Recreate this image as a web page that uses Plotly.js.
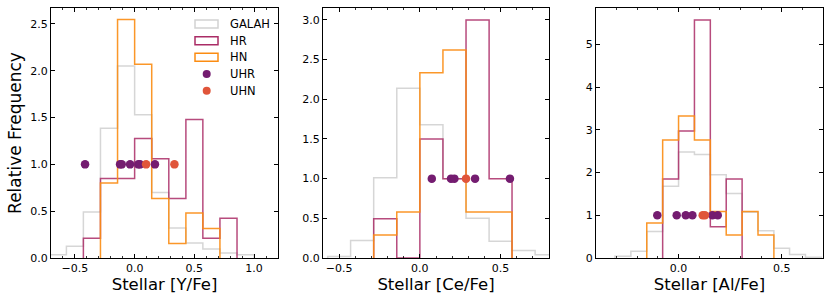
<!DOCTYPE html>
<html>
<head>
<meta charset="utf-8">
<script src="https://cdn.plot.ly/plotly-3.0.1.min.js"></script>
<style>html,body{margin:0;padding:0;background:#fff;}#chart{width:831px;height:303px;}</style>
</head>
<body>
<div id="chart"></div>
<script>
// ---------- data ----------
// [Y/Fe] panel
const yEdges  = [-0.714, -0.571, -0.429, -0.286, -0.143, 0, 0.143, 0.286, 0.429, 0.571, 0.714, 0.857, 1.0];
const galahY  = [0.036, 0.125, 0.49, 1.386, 2.05, 1.53, 0.70, 0.32, 0.16, 0.096, 0.054, 0.036];
const hrY     = [0, 0, 0.21, 0.85, 0.85, 1.275, 1.06, 0.636, 1.48, 0.21, 0.425, 0];
const hnY     = [0, 0, 0, 0.80, 2.546, 2.07, 0.636, 0.154, 0.48, 0.314, 0, 0];
const uhrY    = [-0.415, -0.122, -0.108, -0.038, 0.031, 0.045, 0.17];
const uhnY    = [0.096, 0.333];

// [Ce/Fe] panel
const ceEdges = [-0.571, -0.429, -0.286, -0.143, 0, 0.143, 0.286, 0.429, 0.571, 0.714, 0.857];
const galahCe = [0.02, 0.22, 1.01, 2.14, 1.68, 1.0, 0.50, 0.21, 0.096, 0.04];
const hrCe    = [0, 0, 0.495, 0, 1.5, 1.0, 3.0, 1.0, 0, 0];
const hnCe    = [0, 0, 0.29, 0.58, 2.335, 2.62, 0.58, 0.58, 0, 0];
const uhrCe   = [0.074, 0.193, 0.214, 0.342, 0.558];
const uhnCe   = [0.286];

// [Al/Fe] panel
const alEdges = [-0.308, -0.231, -0.154, -0.077, 0, 0.077, 0.154, 0.231, 0.308, 0.385, 0.462, 0.538, 0.615, 0.692];
const galahAl = [0.04, 0.16, 0.62, 1.68, 2.48, 2.42, 1.95, 1.51, 1.07, 0.64, 0.23, 0.08, 0.02];
const hrAl    = [0, 0, 0, 1.85, 2.97, 5.57, 0.73, 1.85, 0, 0, 0, 0, 0];
const hnAl    = [0, 0, 0.82, 2.76, 3.32, 2.76, 1.09, 0.54, 1.09, 0.54, 0, 0, 0];
const uhrAl   = [-0.103, -0.009, 0.035, 0.067, 0.164, 0.19];
const uhnAl   = [0.117, 0.128];

const uLevel = 1; // single-star markers sit at relative frequency 1

const seriesNames = ['GALAH', 'HR', 'HN', 'UHR', 'UHN'];
const xTitles = ['Stellar [Y/Fe]', 'Stellar [Ce/Fe]', 'Stellar [Al/Fe]'];
const yTitle = 'Relative Frequency';

// ---------- styling ----------
const C = {GALAH:'#d2d2d2', HR:'#aa2c66', HN:'#fb8c12', UHR:'#741c70', UHN:'#e0553a'};
const FONT = 'DejaVu Sans, Verdana, sans-serif';

function step(edges, vals) {
  let i0 = vals.findIndex(v => v > 0);
  let i1 = vals.length - 1; while (i1 > 0 && vals[i1] === 0) i1--;
  const xs = [edges[i0]], ys = [0];
  for (let i = i0; i <= i1; i++) { xs.push(edges[i], edges[i+1]); ys.push(vals[i], vals[i]); }
  xs.push(edges[i1+1]); ys.push(0);
  return {xs, ys};
}

const panels = [
  {edges:yEdges,  g:galahY,  hr:hrY,  hn:hnY,  uhr:uhrY,  uhn:uhnY,  ax:''},
  {edges:ceEdges, g:galahCe, hr:hrCe, hn:hnCe, uhr:uhrCe, uhn:uhnCe, ax:'2'},
  {edges:alEdges, g:galahAl, hr:hrAl, hn:hnAl, uhr:uhrAl, uhn:uhnAl, ax:'3'}
];

const traces = [];
panels.forEach(p => {
  const xa = 'x' + p.ax, ya = 'y' + p.ax;
  [['GALAH', p.g], ['HR', p.hr], ['HN', p.hn]].forEach(([nm, v]) => {
    const s = step(p.edges, v);
    traces.push({type:'scatter', mode:'lines', x:s.xs, y:s.ys, xaxis:xa, yaxis:ya, name:nm,
      line:{color:C[nm], width:1.5}, opacity: nm === 'HR' ? 0.85 : 0.9, showlegend:false, hoverinfo:'skip'});
  });
  traces.push({type:'scatter', mode:'markers', x:p.uhr, y:p.uhr.map(() => uLevel), xaxis:xa, yaxis:ya, name:'UHR',
    marker:{color:C.UHR, size:8.5}, showlegend:false});
  traces.push({type:'scatter', mode:'markers', x:p.uhn, y:p.uhn.map(() => uLevel), xaxis:xa, yaxis:ya, name:'UHN',
    marker:{color:C.UHN, size:8.5}, showlegend:false});
});

const W = 831, H = 303;
const plotTop = 8, plotBottom = 258;
const yDom = [1 - plotBottom / H, 1 - plotTop / H];
const xDoms = [[51 / W, 278 / W], [323 / W, 549 / W], [596 / W, 823 / W]];
const xRanges = [[-0.7, 1.2], [-0.6, 0.8], [-0.4, 0.7]];
const yRanges = [[0, 2.67], [0, 3.15], [0, 5.85]];

function xAxis(i) {
  return {domain:xDoms[i], range:xRanges[i], anchor:'y' + (i ? i + 1 : ''),
    showline:true, linecolor:'#000', linewidth:1, mirror:'allticks',
    ticks:'inside', ticklen:4, tickwidth:1, tickcolor:'#000',
    dtick:0.5, tick0:0, tickformat:'.1f',
    minor:{ticks:'inside', ticklen:2, dtick:0.1, tick0:0, tickcolor:'#000', tickwidth:0.8, showgrid:false},
    showgrid:false, zeroline:false,
    tickfont:{family:FONT, size:11, color:'#000'},
    title:{text:xTitles[i], font:{family:FONT, size:16.5, color:'#000'}, standoff:4}};
}
function yAxis(i) {
  const a = {domain:yDom, range:yRanges[i], anchor:'x' + (i ? i + 1 : ''),
    showline:true, linecolor:'#000', linewidth:1, mirror:'allticks',
    ticks:'inside', ticklen:4, tickwidth:1, tickcolor:'#000',
    dtick: i === 2 ? 1 : 0.5, tick0:0, tickformat: i === 2 ? 'd' : '.1f',
    showgrid:false, zeroline:false,
    tickfont:{family:FONT, size:11, color:'#000'}};
  if (i === 0) a.title = {text:yTitle, font:{family:FONT, size:17, color:'#000'}, standoff:4};
  return a;
}

// manual legend inside first panel (boxes for histograms, dots for singles)
const shapes = [], annotations = [];
const legRows = [24, 40.7, 57.3, 74, 90.7];
seriesNames.forEach((nm, k) => {
  const cy = legRows[k];
  if (k < 3) {
    shapes.push({type:'rect', xref:'paper', yref:'paper',
      x0:195 / W, x1:218 / W, y0:1 - (cy + 4) / H, y1:1 - (cy - 4) / H,
      line:{color:C[nm], width:1.5}, fillcolor:'rgba(0,0,0,0)'});
  } else {
    shapes.push({type:'circle', xref:'paper', yref:'paper',
      x0:(206.7 - 4) / W, x1:(206.7 + 4) / W, y0:1 - (cy + 4) / H, y1:1 - (cy - 4) / H,
      line:{color:C[nm], width:0}, fillcolor:C[nm]});
  }
  annotations.push({xref:'paper', yref:'paper', x:228 / W, y:1 - cy / H, xanchor:'left', yanchor:'middle',
    text:nm, showarrow:false, font:{family:FONT, size:11.5, color:'#000'}});
});

const layout = {
  width:W, height:H, margin:{l:0, r:0, t:0, b:0}, paper_bgcolor:'#fff', plot_bgcolor:'#fff',
  showlegend:false, font:{family:FONT, size:11, color:'#000'},
  xaxis:xAxis(0), xaxis2:xAxis(1), xaxis3:xAxis(2),
  yaxis:yAxis(0), yaxis2:yAxis(1), yaxis3:yAxis(2),
  shapes, annotations
};

Plotly.newPlot('chart', traces, layout, {displayModeBar:false, staticPlot:true});
</script>
</body>
</html>
